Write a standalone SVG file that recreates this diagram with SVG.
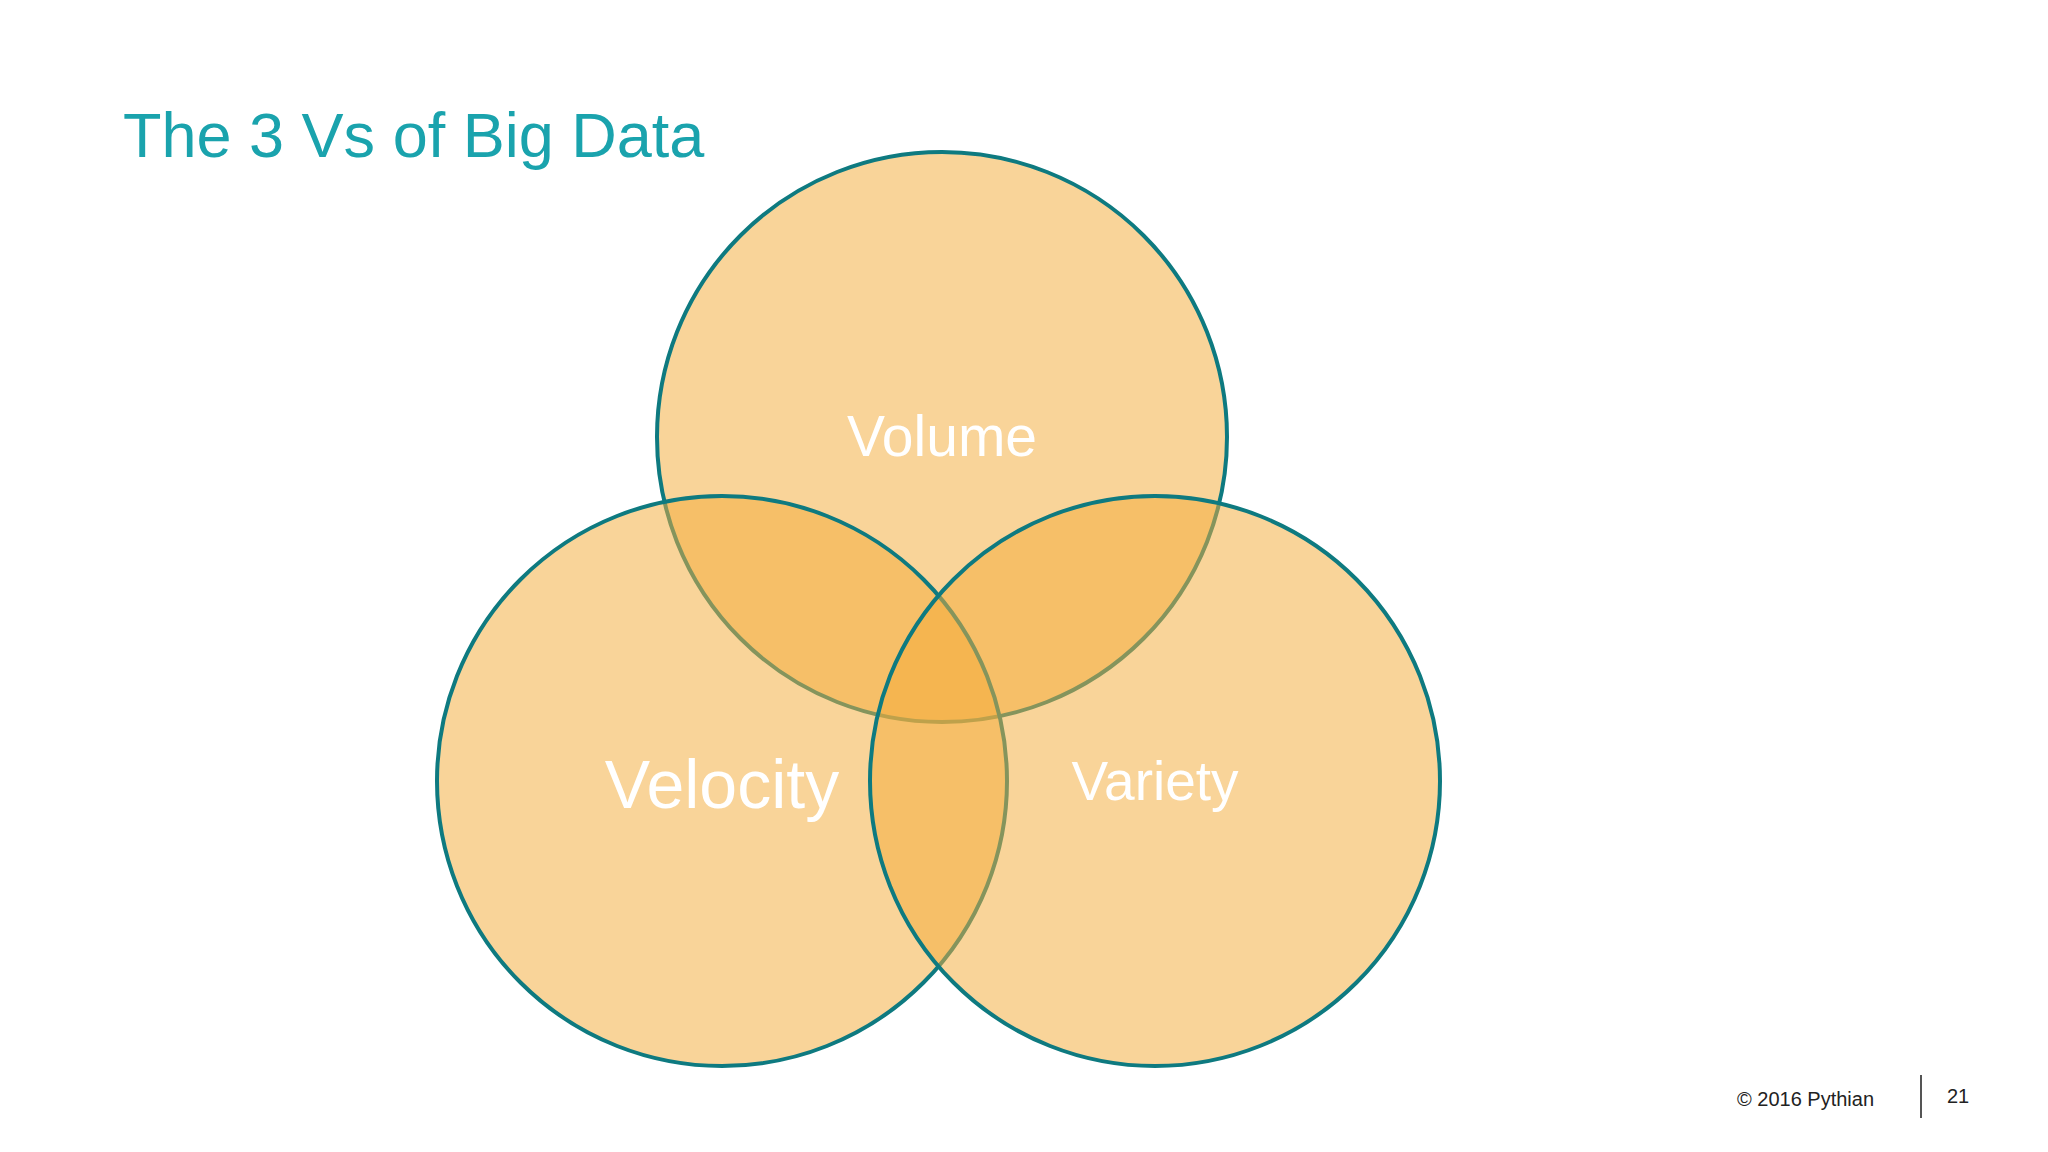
<svg xmlns="http://www.w3.org/2000/svg" width="2048" height="1152" viewBox="0 0 2048 1152">
<style>
.c{fill:#f4ad3c;fill-opacity:0.52;stroke:#0e7a80;stroke-width:4}
.l{fill:#ffffff;font-family:"Liberation Sans",Arial,sans-serif;text-anchor:middle}
</style>
<rect width="2048" height="1152" fill="#ffffff"/>
<text x="123" y="157" font-family="Liberation Sans,Arial,sans-serif" font-size="63" fill="#1aa3ad">The 3 Vs of Big Data</text>
<g id="volume"><circle class="c" cx="942" cy="437" r="285"/></g>
<g id="velocity"><circle class="c" cx="722" cy="781" r="285"/></g>
<g id="variety"><circle class="c" cx="1155" cy="781" r="285"/></g>
<g id="labels">
<text class="l" x="942" y="456" font-size="57">Volume</text>
<text class="l" x="722" y="808" font-size="68">Velocity</text>
<text class="l" x="1155" y="800" font-size="55">Variety</text>
</g>
<g id="connectors"></g>
<g id="footer" font-family="Liberation Sans,Arial,sans-serif" font-size="20" fill="#222">
<text x="1737" y="1106">© 2016 Pythian</text>
<line x1="1921" y1="1075" x2="1921" y2="1118" stroke="#555" stroke-width="2"/>
<text x="1947" y="1103">21</text>
</g>
</svg>
